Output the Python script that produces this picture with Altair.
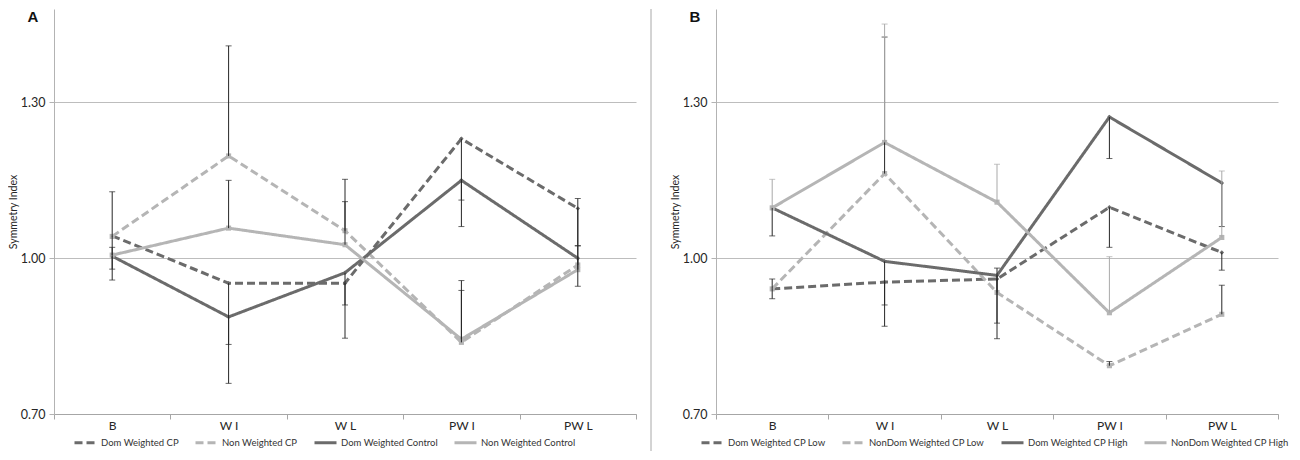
import altair as alt
import pandas as pd

categories = ["B", "W I", "W L", "PW I", "PW L"]

# ---- Panel A ----
a_series = ["Dom Weighted CP", "Non Weighted CP", "Dom Weighted Control", "Non Weighted Control"]
a_dom_cp = [1.043, 0.952, 0.952, 1.230, 1.096]
a_non_cp = [1.042, 1.197, 1.053, 0.838, 0.987]
a_dom_ctrl = [1.004, 0.887, 0.972, 1.150, 1.000]
a_non_ctrl = [1.006, 1.058, 1.026, 0.844, 0.978]
a_dom_cp_err = [0.085, 0.118, 0.106, 0.118, 0.072]
a_non_cp_err = [0.086, 0.212, 0.099, 0.119, 0.128]
a_dom_ctrl_err = [0.025, 0.128, 0.062, 0.089, 0.054]
a_non_ctrl_err = [0.015, 0.092, 0.083, 0.094, 0.046]

# ---- Panel B ----
b_series = ["Dom Weighted CP Low", "NonDom Weighted CP Low", "Dom Weighted CP High", "NonDom Weighted CP High"]
b_dom_low = [0.941, 0.954, 0.960, 1.098, 1.011]
b_non_low = [0.941, 1.163, 0.934, 0.793, 0.892]
b_dom_high = [1.097, 0.994, 0.967, 1.272, 1.145]
b_non_high = [1.097, 1.223, 1.108, 0.895, 1.040]
b_dom_low_err = [0.019, 0.044, 0.085, 0.077, 0.034]
b_non_low_err = [0.019, 0.263, 0.047, 0.008, 0.056]
b_dom_high_err = [0.054, 0.125, 0.122, 0.080, 0.084]
b_non_high_err = [0.055, 0.228, 0.073, 0.108, 0.128]

# error bar direction: dominant side drawn downward, non-dominant upward
err_sign = [-1, 1, -1, 1]
dark_flags = [True, False, True, False]

# styles
line_colors = ["#6b6b6b", "#b5b5b5", "#6b6b6b", "#b5b5b5"]
dashes = [[8, 4], [8, 4], [1, 0], [1, 0]]
FONT = "Lato"


def frame(series, values, errs, light_flags):
    rows = []
    for s, vals, es, sg, lf, dk in zip(series, values, errs, err_sign, light_flags, dark_flags):
        for c, v, e in zip(categories, vals, es):
            rows.append({"cat": c, "series": s, "value": v, "end": v + sg * e,
                         "light": lf, "dark": dk})
    return pd.DataFrame(rows)


df_a = frame(a_series, [a_dom_cp, a_non_cp, a_dom_ctrl, a_non_ctrl],
             [a_dom_cp_err, a_non_cp_err, a_dom_ctrl_err, a_non_ctrl_err],
             [False, False, False, False])
df_b = frame(b_series, [b_dom_low, b_non_low, b_dom_high, b_non_high],
             [b_dom_low_err, b_non_low_err, b_dom_high_err, b_non_high_err],
             [False, False, False, True])

H = 405


def panel(df, series, letter, legend_x, width, separator):
    x = alt.X("cat:N", sort=categories,
              scale=alt.Scale(type="band", domain=categories, paddingInner=0, paddingOuter=0),
              axis=alt.Axis(title=None, labelAngle=0, tickBand="extent", tickSize=5,
                            tickColor="#a6a6a6", domainColor="#a6a6a6", grid=False,
                            labelFont=FONT, labelFontSize=12, labelColor="#262626",
                            labelPadding=1))
    y = alt.Y("value:Q",
              scale=alt.Scale(domain=[0.70, 1.48], nice=False, zero=False),
              axis=alt.Axis(title="Symmetry Index", values=[0.7, 1.0, 1.3], format=".2f",
                            grid=True, gridColor="#bdbdbd", domainColor="#b3b3b3",
                            tickColor="#b3b3b3", tickSize=5, labelPadding=4,
                            labelFont=FONT, labelFontSize=12.5, labelColor="#262626",
                            titleFont=FONT, titleFontSize=10.5, titleFontWeight="normal",
                            titleColor="#262626", titlePadding=2))
    leg = alt.Legend(title=None, orient="none", legendX=legend_x, legendY=421,
                     direction="horizontal", columns=4, symbolType="stroke",
                     symbolSize=484, symbolStrokeWidth=3, labelFont=FONT,
                     labelFontSize=9.5, labelColor="#333333", columnPadding=10,
                     labelOffset=3, padding=0)
    color = alt.Color("series:N", scale=alt.Scale(domain=series, range=line_colors), legend=leg)
    dash = alt.StrokeDash("series:N", scale=alt.Scale(domain=series, range=dashes), legend=leg)
    pcolor = alt.Color("series:N", scale=alt.Scale(domain=series, range=line_colors), legend=None)

    base = alt.Chart(df)
    lines = base.mark_line(strokeWidth=3).encode(x=x, y=y, color=color, strokeDash=dash)
    dark_pts = base.transform_filter("datum.dark").mark_point(
        filled=True, opacity=1, size=20, shape="diamond").encode(x=x, y=y, color=pcolor)
    light_pts = base.transform_filter("!datum.dark").mark_point(
        filled=True, opacity=1, size=26, shape="square").encode(x=x, y=y, color=pcolor)
    layers = [lines, dark_pts, light_pts]
    for flag, col in [(False, "#262626"), (True, "#a9a9a9")]:
        filt = "datum.light" if flag else "!datum.light"
        layers.append(base.transform_filter(filt).mark_rule(color=col, strokeWidth=1).encode(
            x=x, y="value:Q", y2="end:Q"))
        layers.append(base.transform_filter(filt).mark_tick(color=col, thickness=1, size=6).encode(
            x=x, y="end:Q"))
    letter_df = pd.DataFrame({"t": [letter]})
    layers.append(alt.Chart(letter_df).mark_text(font="Liberation Sans", fontWeight="bold",
                                                 fontSize=15, align="center", baseline="top",
                                                 color="#111111").encode(
        x=alt.value(-21), y=alt.value(1), text="t:N"))
    if separator:
        layers.append(alt.Chart(letter_df).mark_rule(color="#a8a8a8", strokeWidth=1).encode(
            x=alt.value(597), y=alt.value(0), y2=alt.value(442)))
    return alt.layer(*layers).properties(width=width, height=H)


pa = panel(df_a, a_series, "A", 19, 582, True)
pb = panel(df_b, b_series, "B", -16, 562, False)

chart = (alt.hconcat(pa, pb, spacing=18)
         .resolve_scale(color="independent", strokeDash="independent",
                        x="independent", y="independent")
         .resolve_legend(color="independent", strokeDash="independent")
         .properties(padding=0, background="white")
         .configure_view(strokeWidth=0))

chart.save("out.html", embed_options={"renderer": "svg", "actions": False})
